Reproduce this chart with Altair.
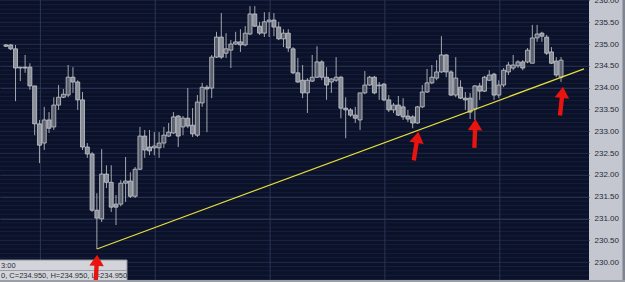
import altair as alt
import pandas as pd
import numpy as np

# ---------------- data ----------------
opens = [234.98, 234.98, 234.89, 234.45, 234.47, 234.47, 234.04, 233.17, 232.73, 233.26,
         233.10, 233.60, 233.78, 233.83, 234.24, 234.13, 233.72, 232.64, 232.48, 231.19,
         230.99, 232.02, 231.83, 231.33, 231.33, 231.81, 231.86, 231.51, 232.13, 232.89,
         232.64, 232.62, 232.62, 232.73, 232.89, 232.96, 233.35, 233.10, 233.30, 233.14,
         232.91, 233.65, 234.01, 233.99, 234.70, 235.16, 234.79, 234.86, 235.00, 235.05,
         234.98, 235.23, 235.69, 235.41, 235.25, 235.51, 235.55, 235.39, 235.12, 235.25,
         234.89, 234.34, 234.17, 233.88, 234.15, 234.24, 234.59, 234.24, 234.13, 234.17,
         234.24, 233.53, 233.49, 233.37, 233.26, 233.88, 234.06, 234.24, 234.04, 234.08,
         233.72, 233.49, 233.60, 233.56, 233.35, 233.33, 233.19, 233.56, 233.90, 234.11,
         234.22, 234.36, 234.75, 234.36, 233.83, 234.01, 233.76, 233.76, 233.51, 234.04,
         233.92, 234.17, 234.31, 233.83, 234.06, 234.36, 234.45, 234.50, 234.59, 234.59,
         234.56, 235.14, 235.25, 235.16, 234.82, 234.61, 234.24]
closes = [234.95, 234.89, 234.45, 234.47, 234.45, 234.04, 233.17, 232.68, 233.26, 233.07,
          233.60, 233.78, 233.85, 234.24, 234.13, 233.72, 232.64, 232.48, 231.19, 231.01,
          232.02, 231.83, 231.26, 231.26, 231.81, 231.86, 231.51, 232.13, 232.89, 232.57,
          232.55, 232.66, 232.73, 232.91, 232.98, 233.33, 232.89, 233.30, 233.12, 232.94,
          233.67, 234.01, 233.97, 234.70, 235.16, 234.70, 234.89, 235.00, 235.05, 234.98,
          235.25, 235.69, 235.41, 235.25, 235.51, 235.55, 235.39, 235.12, 235.25, 234.91,
          234.34, 234.13, 233.88, 234.17, 234.24, 234.59, 234.24, 234.06, 234.20, 234.24,
          233.53, 233.49, 233.37, 233.30, 233.88, 234.06, 234.24, 233.88, 234.06, 233.72,
          233.49, 233.60, 233.37, 233.33, 233.28, 233.19, 233.56, 233.90, 234.11, 234.24,
          234.36, 234.75, 234.36, 233.83, 234.22, 233.76, 233.72, 233.44, 234.04, 233.92,
          234.24, 234.29, 233.83, 234.06, 234.40, 234.52, 234.52, 234.59, 234.45, 234.86,
          235.14, 235.23, 235.18, 234.79, 234.56, 234.29, 234.63]
highs = [235.00, 235.00, 234.98, 234.47, 234.75, 234.56, 234.04, 233.26, 233.56, 233.44,
         233.78, 234.06, 233.97, 234.52, 234.47, 234.17, 233.90, 232.73, 232.52, 231.58,
         232.59, 232.22, 232.22, 231.54, 231.88, 232.41, 232.06, 232.18, 233.10, 233.03,
         233.03, 232.98, 232.98, 233.10, 233.19, 233.44, 233.37, 233.35, 233.99, 233.53,
         233.83, 234.11, 234.06, 234.75, 235.28, 235.71, 235.25, 235.09, 235.28, 235.34,
         235.41, 235.87, 235.87, 235.51, 235.73, 235.73, 235.71, 235.51, 235.34, 235.34,
         234.93, 234.68, 234.52, 234.22, 234.75, 234.95, 234.63, 234.47, 234.22, 234.70,
         234.27, 233.78, 233.53, 233.56, 233.88, 234.38, 234.27, 234.27, 234.13, 234.11,
         233.83, 233.65, 233.81, 233.76, 233.49, 233.37, 233.58, 234.06, 234.43, 234.52,
         234.63, 235.18, 234.77, 234.40, 234.70, 234.17, 233.90, 233.88, 234.06, 234.11,
         234.27, 234.40, 234.34, 234.17, 234.45, 234.59, 234.75, 234.63, 234.63, 234.91,
         235.44, 235.44, 235.28, 235.21, 234.93, 234.70, 234.70]
lows = [234.93, 234.86, 233.69, 234.15, 234.34, 233.95, 232.91, 232.27, 232.57, 232.96,
        233.03, 233.49, 233.76, 233.78, 233.88, 233.49, 232.57, 232.39, 231.15, 230.30,
        230.92, 231.70, 231.15, 230.85, 231.28, 231.38, 231.47, 231.47, 232.11, 232.39,
        232.45, 232.45, 232.39, 232.62, 232.87, 232.94, 232.64, 232.91, 233.07, 232.87,
        232.87, 233.56, 232.98, 233.76, 234.68, 234.66, 234.68, 234.45, 234.98, 234.82,
        234.95, 235.21, 235.39, 235.21, 235.16, 235.16, 235.18, 235.09, 234.93, 234.82,
        234.31, 234.11, 233.76, 233.42, 234.13, 234.22, 234.17, 233.72, 233.88, 234.13,
        233.30, 232.84, 233.33, 233.19, 233.03, 233.85, 234.04, 233.85, 233.72, 233.69,
        233.44, 233.42, 233.35, 233.26, 233.21, 233.07, 233.17, 233.53, 233.88, 234.08,
        234.17, 234.34, 234.24, 233.81, 233.78, 233.74, 233.49, 233.28, 233.26, 233.72,
        233.90, 234.15, 233.72, 233.76, 234.01, 234.29, 234.40, 234.45, 234.40, 234.56,
        234.56, 235.05, 235.05, 234.75, 234.54, 234.24, 234.13]

price_ticks = [230.0, 230.5, 231.0, 231.5, 232.0, 232.5, 233.0, 233.5, 234.0, 234.5, 235.0, 235.5, 236.0]
session_marks = [7.2, 31.2, 55.2, 79.2, 103.2]

trend_bar = [19, 120.8]
trend_price = [230.30, 234.43]

arrow_bar = [18.9, 85.7, 98.0, 116.1]
arrow_price = [229.84, 232.66, 232.95, 233.69]

info_lines = ["3:00", "0, C=234.950, H=234.950, L=234.950"]

# ---------------- styling ----------------
arrow_tilt = [3, 9, 2, 6]
NAVY = "#0a1128"
PANEL = "#c4c7cf"
W, H = 589, 280

df = pd.DataFrame({"i": range(len(opens)), "open": opens, "high": highs,
                   "low": lows, "close": closes})
df["dir"] = np.where(df["close"] >= df["open"], "up", "down")

xs = alt.Scale(domain=[-0.2, 120.8], nice=False, zero=False)
ys = alt.Scale(domain=[229.59, 236.01], nice=False, zero=False)
YAX = alt.Axis(orient="right", values=price_ticks, format=".2f", title=None,
               labelFontSize=8, labelColor="#262a33", labelFont="Liberation Sans",
               labelPadding=5, labelFlush=False, domain=False, ticks=False,
               grid=True, gridColor="#2a3455", gridWidth=1, labelOverlap=False)


def X(field):
    return alt.X(field, scale=xs, axis=None)


def Y(field):
    return alt.Y(field, scale=ys, axis=YAX)


minor = pd.DataFrame({"p": np.round(np.arange(229.6, 236.01, 0.1), 2)})
minor_layer = alt.Chart(minor).mark_rule(color="#161f3b", strokeWidth=1).encode(
    y=Y("p:Q"))

vgrid = alt.Chart(pd.DataFrame({"s": session_marks})).mark_rule(
    color="#2b3656", strokeWidth=1).encode(x=X("s:Q"))

wicks = alt.Chart(df).mark_rule(color="#a4a8b0", strokeWidth=1).encode(
    x=X("i:Q"), y=Y("low:Q"), y2="high:Q")

bodies = alt.Chart(df).mark_bar(size=4, stroke="#c6c9d0", strokeWidth=0.8).encode(
    x=X("i:Q"), y=Y("open:Q"), y2="close:Q",
    color=alt.Color("dir:N", scale=alt.Scale(domain=["up", "down"],
                                             range=["#5b606c", "#8a8e97"]), legend=None))

trend = alt.Chart(pd.DataFrame({"i": trend_bar, "p": trend_price})).mark_line(
    color="#e4df3a", strokeWidth=1.2).encode(x=X("i:Q"), y=Y("p:Q"))

box = alt.Chart(pd.DataFrame({"a": [0]})).mark_rect(
    fill="#d2d4da", stroke="#8f939c", strokeWidth=1).encode(
    x=alt.value(-1), x2=alt.value(127), y=alt.value(260), y2=alt.value(281))
divider = alt.Chart(pd.DataFrame({"a": [0]})).mark_rule(
    color="#9a9ea6", strokeWidth=1).encode(
    x=alt.value(0), x2=alt.value(127), y=alt.value(270.5))
t1 = alt.Chart(pd.DataFrame({"t": [info_lines[0]]})).mark_text(
    align="left", baseline="middle", fontSize=7.5, font="Liberation Sans",
    color="#2a2d33").encode(x=alt.value(1), y=alt.value(265.5), text="t:N")
t2 = alt.Chart(pd.DataFrame({"t": [info_lines[1]]})).mark_text(
    align="left", baseline="middle", fontSize=7.5, font="Liberation Sans",
    color="#2a2d33").encode(x=alt.value(1), y=alt.value(276), text="t:N")

ARROW = "M0,-1 L0.5,-0.22 L0.15,-0.22 L0.15,1 L-0.15,1 L-0.15,-0.22 L-0.5,-0.22 Z"
arrows = alt.Chart(pd.DataFrame({"i": arrow_bar, "p": arrow_price, "a": arrow_tilt})).mark_point(
    shape=ARROW, filled=True, color="#e8140f", opacity=1, size=840, strokeWidth=0).encode(
    x=X("i:Q"), y=Y("p:Q"), angle=alt.Angle("a:Q", scale=None))

right_edge = alt.Chart(pd.DataFrame({"a": [0]})).mark_rect(fill="#80848e").encode(
    x=alt.value(W + 33.5), x2=alt.value(W + 36), y=alt.value(0), y2=alt.value(H + 2))
bottom_edge = alt.Chart(pd.DataFrame({"a": [0]})).mark_rect(fill="#9a9ea7").encode(
    x=alt.value(0), x2=alt.value(W + 36), y=alt.value(H), y2=alt.value(H + 2))

chart = alt.layer(minor_layer, vgrid, wicks, bodies, trend, box, divider, t1, t2,
                  arrows, right_edge, bottom_edge).properties(
    width=W, height=H,
    autosize=alt.AutoSizeParams(type="none"),
    padding={"left": 0, "top": 0, "right": 36, "bottom": 2},
    background=PANEL,
).configure_view(fill=NAVY, stroke=None)

chart.save("out.html", embed_options={"renderer": "svg", "actions": False})
